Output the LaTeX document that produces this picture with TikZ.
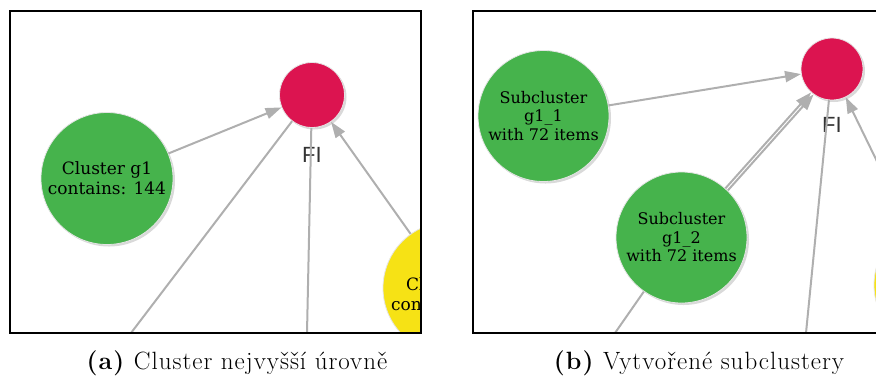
\documentclass[tikz,border=0pt]{standalone}
\usepackage{fontspec}
\newfontfamily\nodefont{DejaVu Serif}
\newfontfamily\labelfont{Liberation Sans}
\newfontfamily\captfont[LetterSpace=4]{Latin Modern Roman}
\usetikzlibrary{arrows.meta,shadows}
\definecolor{fired}{HTML}{DC1450}
\definecolor{clgreen}{HTML}{46B34C}
\definecolor{clyellow}{HTML}{F6E215}
\definecolor{edgegray}{HTML}{AFAFAF}
\definecolor{labgray}{HTML}{333333}
\tikzset{
  bubble/.style={circle, inner sep=0pt, draw=white!80!gray, line width=0.8pt,
    drop shadow={opacity=0.3, shadow xshift=2pt, shadow yshift=-2pt}},
  fibub/.style={bubble, fill=fired, minimum size=65pt},
  greenbig/.style={bubble, fill=clgreen, minimum size=132pt, align=center,
    font=\nodefont\fontsize{17}{20}\selectfont},
  greensub/.style={bubble, fill=clgreen, minimum size=131pt, align=center,
    font=\nodefont\fontsize{16}{18.5}\selectfont},
  yelbub/.style={bubble, fill=clyellow, minimum size=132pt},
  yeltext/.style={anchor=base west, inner sep=0pt, font=\nodefont\fontsize{17}{20}\selectfont},
  filabel/.style={text=labgray, font=\labelfont\fontsize{22}{24}\selectfont, inner sep=0pt},
  edge/.style={draw=edgegray, line width=2pt},
  arr/.style={edge, -{Triangle[length=16pt, width=11pt]}},
  frame/.style={draw=black, line width=2.2pt},
  capt/.style={font=\captfont\fontsize{25}{28}\selectfont, inner sep=0pt}
}
\begin{document}
\begin{tikzpicture}[x=1pt, y=-1pt]
\useasboundingbox (0,0) rectangle (876,376);
\clip (0,0) rectangle (876,376);
% ---------- panel (a) ----------
\begin{scope}
  \clip (10,11) rectangle (421,333);
  \node[fibub] (fiA) at (312,95) {};
  \node[filabel] (fiAlab) at (312,155) {FI};
  \node[greenbig] (g1) at (107,178.5) {Cluster g1\\contains: 144};
  \node[yelbub] (yelA) at (449,288) {};
  \node[yeltext] (yelA1) at (406,290) {Cl};
  \node[yeltext] (yelA2) at (391,310) {con};
  \coordinate (outA1) at (131,333);
  \coordinate (outA2) at (307,333);
  \draw[arr] (g1) -- (fiA);
  \draw[edge] (fiA) -- (outA1);
  \draw[edge] (fiA) -- (outA2);
  \draw[arr] (yelA) -- (fiA);
\end{scope}
\draw[frame] (10,11) rectangle (421,333);
\node[capt] (captA) at (237,363) {\textbf{(a)} Cluster nejvyšší úrovně};
% ---------- panel (b) ----------
\begin{scope}
  \clip (473,11) rectangle (880,333);
  \node[fibub, minimum size=62pt] (fiB) at (832,69) {};
  \node[filabel] (fiBlab) at (832,125) {FI};
  \node[greensub] (g11) at (543.5,116) {Subcluster\\g1\_1\\with 72 items};
  \node[greensub] (g12) at (681.5,237.5) {Subcluster\\g1\_2\\with 72 items};
  \node[yelbub] (yelB) at (940,285) {};
  \coordinate (outB1) at (615,333);
  \coordinate (outB2) at (806,333);
  \coordinate (inB) at (890,188);
  \draw[arr] (g11) -- (fiB);
  \draw[arr] (g12) -- (fiB);
  \draw[arr, transform canvas={shift={(2.5pt,-2pt)}}] (g12) -- (fiB);
  \draw[edge] (g12) -- (outB1);
  \draw[edge] (fiB) -- (outB2);
  \draw[arr] (inB) -- (fiB);
\end{scope}
\draw[frame] (880,11) -- (473,11) -- (473,333) -- (880,333);
\node[capt] (captB) at (699,363) {\textbf{(b)} Vytvořené subclustery};
\end{tikzpicture}
\end{document}
